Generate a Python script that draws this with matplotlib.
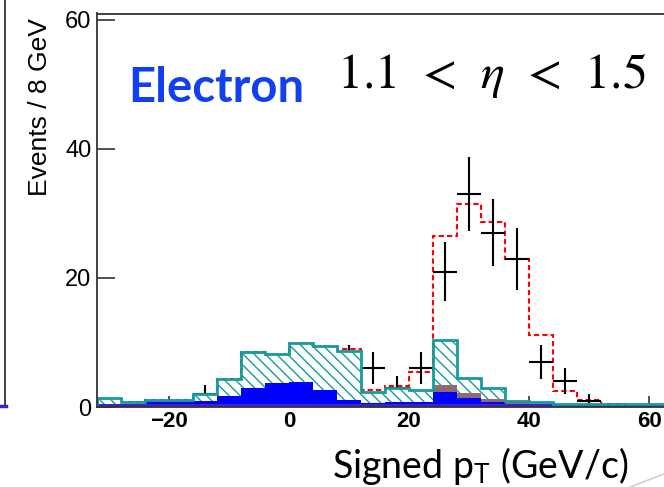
import numpy as np
import matplotlib
matplotlib.use("Agg")
import matplotlib.pyplot as plt
from matplotlib.lines import Line2D

#------------------------------------- data -------------------------------------#

# bin edges of the histograms (4 GeV bins)
edges = [-32, -28, -24, -20, -16, -12, -8, -4, 0, 4, 8, 12, 16, 20, 24, 28,
         32, 36, 40, 44, 48, 52, 56, 60, 64]

# stacked backgrounds, cumulative heights
navy_top  = [0.4, 0.4, 0.4, 0.4, 0.4, 0.4, 0.4, 0.4, 0.4, 0.4, 0.4, 0.4,
             0.4, 0.4, 0.4, 0.4, 0.4, 0.4, 0.4, 0.4, 0.4, 0.4, 0.4, 0.4]
blue_top  = [0.5, 0.5, 0.9, 0.9, 0.9, 1.75, 2.9, 3.7, 3.8, 2.7, 1.1, 0.6,
             0.8, 0.8, 2.4, 1.35, 0.8, 0.5, 0.4, 0.4, 0.4, 0.4, 0.4, 0.4]
brown_top = [0.5, 0.5, 0.9, 0.9, 0.9, 1.75, 2.9, 3.7, 3.8, 2.7, 1.1, 0.6,
             0.8, 0.8, 3.4, 2.2, 1.2, 0.7, 0.4, 0.4, 0.4, 0.4, 0.4, 0.4]
teal_top  = [1.35, 0.8, 1.1, 1.1, 2.0, 4.4, 8.6, 8.2, 9.9, 9.4, 8.7, 2.3,
             3.0, 2.6, 10.4, 4.5, 3.0, 1.0, 0.7, 0.4, 0.4, 0.4, 0.4, 0.4]
# signal + background total (red dashed)
total     = [1.3, 0.8, 1.1, 1.1, 2.0, 4.4, 8.5, 8.1, 9.8, 9.3, 9.0, 2.6,
             3.3, 5.5, 26.5, 31.4, 28.7, 23.0, 11.2, 2.5, 1.1, 0.5, 0.0, 0.0]

# data points
data_x = [-14, -10, -6, -2, 2, 6, 10, 14, 18, 22, 26, 30, 34, 38, 42, 46, 50]
data_y = [2, 2, 5, 5, 6, 7, 7, 6, 3, 6, 21, 33, 27, 23, 7, 4, 1]

x_ticks = [-20, 0, 20, 40, 60]
x_tick_labels = ["\u221220", "0", "20", "40", "60"]
y_ticks = [0, 20, 40, 60]

#------------------------------------- figure -------------------------------------#

plt.rcParams['mathtext.fontset'] = 'stix'
plt.rcParams['hatch.linewidth'] = 1.0

W, H = 664, 487
fig = plt.figure(figsize=(W / 100, H / 100), dpi=100)
ax = fig.add_axes([97 / W, 80 / H, 1 - 97 / W, (407 - 13.5) / H])
ax.set_axisbelow(True)

teal = '#169c9c'
ax.stairs(teal_top, edges, baseline=0, fill=True, facecolor='white',
          edgecolor=teal, hatch='\\\\\\', linewidth=0, zorder=2.0)
ax.stairs(brown_top, edges, baseline=0, fill=True, color='#8e6a72', zorder=2.1)
ax.stairs(blue_top, edges, baseline=0, fill=True, color='#0000ff', zorder=2.2)
ax.stairs(navy_top, edges, baseline=0, fill=True, color='#3f1fcf', zorder=2.3)
ax.stairs(teal_top, edges, baseline=0, fill=False, color=teal, linewidth=2.0, zorder=2.4)

ax.stairs(total, edges, baseline=0, fill=False, color='red', linewidth=1.5,
          linestyle=(0, (2.5, 1.5)), zorder=1.6)

ax.errorbar(data_x, data_y, xerr=2, yerr=np.sqrt(data_y), fmt='none',
            ecolor='black', elinewidth=1.5, capsize=0, zorder=1.7)

ax.set_xlim(-32, 62.5)
ax.set_ylim(0, 61)
ax.spines['right'].set_visible(False)
for s in ['left', 'top', 'bottom']:
    ax.spines[s].set_color('#333333')
    ax.spines[s].set_linewidth(1.3)

ax.set_xticks(x_ticks)
ax.set_xticklabels(x_tick_labels, fontfamily='Liberation Sans',
                   fontweight='bold', fontsize=16)
ax.set_yticks(y_ticks)
ax.set_yticklabels([str(v) for v in y_ticks], fontfamily='Liberation Sans', fontsize=17)
ax.tick_params(axis='x', direction='in', length=8, width=1.2, pad=3, color='#333333')
ax.tick_params(axis='y', direction='in', length=13, width=1.2, pad=4, color='#333333')
ax.minorticks_off()

fig.text(40 / W, 1 - 18 / H, 'Events / 8 GeV', rotation=90, ha='center', va='top',
         fontfamily='Liberation Sans', fontsize=19)

fig.text(128 / W, 1 - 102 / H, 'Electron', fontfamily='Lato', fontweight='bold',
         fontsize=34, color='#1040f0', va='baseline')
fig.text(337 / W, 1 - 88 / H, r'$1.1\;\,<\;\,\eta\;\,<\;\,1.5$', fontsize=36, va='baseline')

fig.text(332 / W, 1 - 478 / H, r'Signed p$_\mathregular{T}$ (GeV/c)', fontfamily='Lato',
         fontsize=27, va='baseline')

# bits of the neighbouring panel and slide edge
fig.add_artist(Line2D([5 / W, 5 / W], [1, 1 - 406 / H], color='#333333', linewidth=1.3))
fig.add_artist(Line2D([0, 6 / W], [1 - 406 / H, 1 - 406 / H], color='#3f1fcf', linewidth=2.5))
fig.add_artist(Line2D([630 / W, 1], [0, 13 / H], color='#d0d0d0', linewidth=1.2))

fig.savefig('out.png', dpi=100)
